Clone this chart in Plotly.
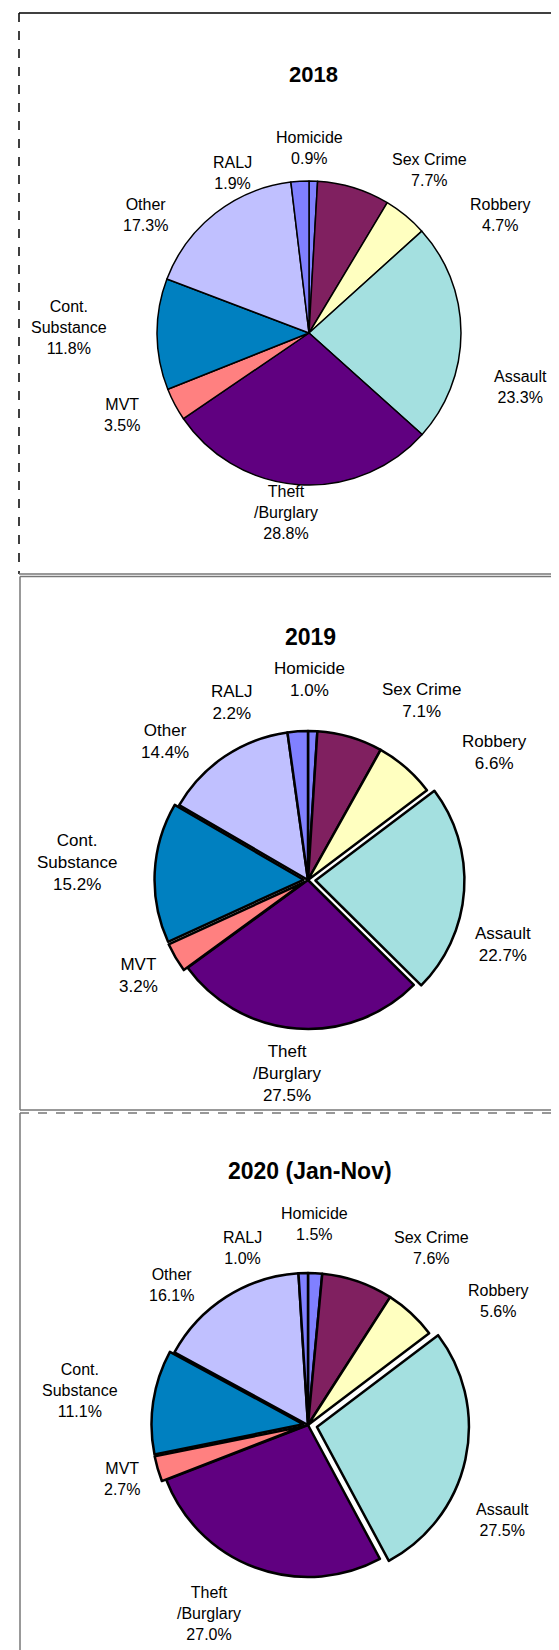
import plotly.graph_objects as go

W, H = 559, 1650

# ---- data ----
categories = ["Homicide", "Sex Crime", "Robbery", "Assault", "Theft<br>/Burglary",
              "MVT", "Cont.<br>Substance", "Other", "RALJ"]
pct_2018 = [0.9, 7.7, 4.7, 23.3, 28.8, 3.5, 11.8, 17.3, 1.9]
pct_2019 = [1.0, 7.1, 6.6, 22.7, 27.5, 3.2, 15.2, 14.4, 2.2]
pct_2020 = [1.5, 7.6, 5.6, 27.5, 27.0, 2.7, 11.1, 16.1, 1.0]
titles = ["2018", "2019", "2020 (Jan-Nov)"]

colors = ["#8080FF", "#802060", "#FFFFC0", "#A4E0E0", "#600080",
          "#FF8080", "#0080C0", "#C0C0FF", "#8080FF"]

# ---- layout (pixel geometry of each panel) ----
panels = [
    dict(values=pct_2018, title=titles[0], cx=301, cy=325, r=152,
         pull=[0, 0, 0, 0, 0, 0, 0, 0, 0], lw=1.5,
         title_xy=(305, 66), title_size=22, font_size=16,
         offsets=[(0, -185), (121, -163), (191, -118), (211, 54), (-23, 180),
                  (-187, 82), (-240, -6), (-164, -118), (-77, -160)]),
    dict(values=pct_2019, title=titles[1], cx=300, cy=872, r=149,
         pull=[0, 0, 0, 0.05, 0, 0.03, 0.03, 0, 0], lw=2.5,
         title_xy=(302, 629), title_size=23, font_size=17,
         offsets=[(1, -200), (113, -179), (186, -128), (195, 64), (-21, 193),
                  (-170, 95), (-231, -18), (-143, -139), (-76, -177)]),
    dict(values=pct_2020, title=titles[2], cx=300, cy=1417, r=152,
         pull=[0, 0, 0, 0.06, 0, 0.03, 0.03, 0, 0], lw=2.5,
         title_xy=(302, 1163), title_size=23, font_size=16,
         offsets=[(6, -201), (123, -177), (190, -124), (194, 95), (-99, 188),
                  (-186, 54), (-228, -35), (-137, -140), (-66, -177)]),
]

FONT = "Arial, Liberation Sans, sans-serif"


def px_x(x):
    return x / W


def px_y(y):
    return 1 - y / H


fig = go.Figure()
annotations = []
for p in panels:
    maxpull = max(p["pull"])
    R = p["r"] * (1 + maxpull)
    fig.add_trace(go.Pie(
        labels=[c.replace("<br>", " ") for c in categories],
        values=p["values"],
        sort=False,
        direction="clockwise",
        rotation=0,
        pull=p["pull"],
        textinfo="none",
        hovertemplate="%{label}: %{value:.1f}%<extra></extra>",
        marker=dict(colors=colors, line=dict(color="black", width=p["lw"])),
        domain=dict(x=[px_x(p["cx"] - R), px_x(p["cx"] + R)],
                    y=[px_y(p["cy"] + R), px_y(p["cy"] - R)]),
        showlegend=False,
    ))
    annotations.append(dict(
        x=px_x(p["title_xy"][0]), y=px_y(p["title_xy"][1]),
        xref="paper", yref="paper", showarrow=False,
        xanchor="center", yanchor="middle",
        text="<b>%s</b>" % p["title"],
        font=dict(family=FONT, size=p["title_size"], color="black"),
    ))
    for cat, val, (dx, dy) in zip(categories, p["values"], p["offsets"]):
        annotations.append(dict(
            x=px_x(p["cx"] + dx), y=px_y(p["cy"] + dy),
            xref="paper", yref="paper", showarrow=False,
            xanchor="center", yanchor="middle", align="center",
            text="%s<br>%.1f%%" % (cat, val),
            font=dict(family=FONT, size=p["font_size"], color="black"),
        ))

# panel frames
shapes = []


def hline(y, x0, x1, color, dash="solid", width=1.5):
    shapes.append(dict(type="line", xref="paper", yref="paper",
                       x0=px_x(x0), x1=px_x(x1), y0=px_y(y), y1=px_y(y),
                       line=dict(color=color, width=width, dash=dash)))


def vline(x, y0, y1, color, dash="solid", width=1.5):
    shapes.append(dict(type="line", xref="paper", yref="paper",
                       x0=px_x(x), x1=px_x(x), y0=px_y(y0), y1=px_y(y1),
                       line=dict(color=color, width=width, dash=dash)))


hline(5, 11, 560, "black")
vline(11, 5, 566, "black", dash="dash")
hline(566, 11, 560, "#777777")
hline(568.5, 12, 560, "#777777")
vline(12, 568.5, 1102, "#777777")
hline(1102, 12, 560, "#777777")
hline(1105, 12, 560, "#777777", dash="dash")
vline(12, 1105, 1651, "#777777")

fig.update_layout(
    width=W, height=H,
    margin=dict(l=0, r=0, t=0, b=0),
    paper_bgcolor="white", plot_bgcolor="white",
    annotations=annotations, shapes=shapes,
    font=dict(family=FONT),
)

fig.write_html("out.html")
